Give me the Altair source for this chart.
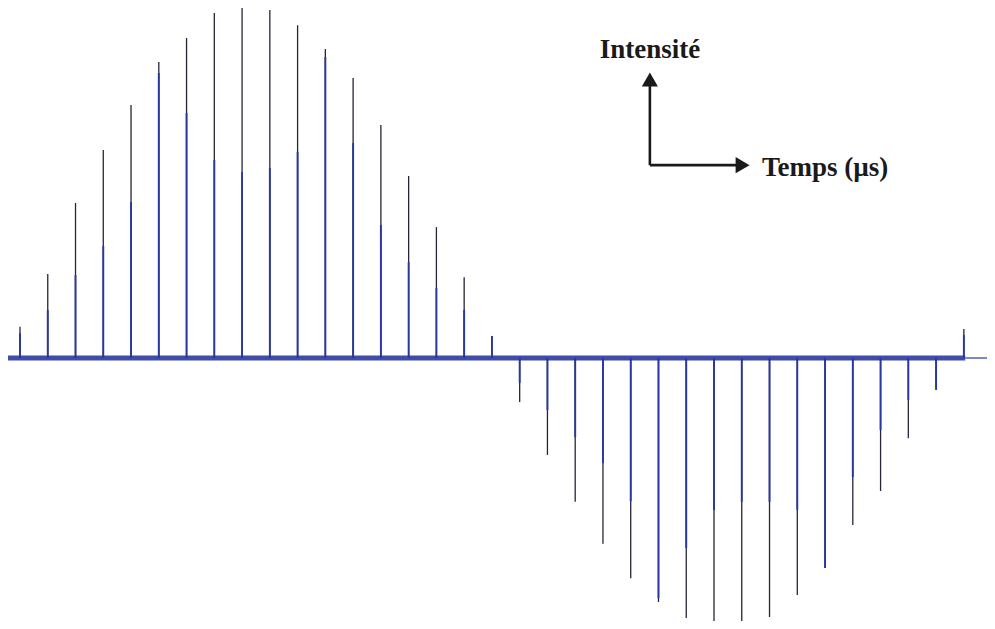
import altair as alt
import pandas as pd

# Spike times (one peak per period, arbitrary µs units)
spike_time = list(range(1, 36))
# Dark (tall) component of each spike, intensity in arbitrary units
black_peak = [8.9, 24.0, 44.3, 59.4, 72.3, 84.6, 91.4, 98.6, 100.3, 99.4,
              95.1, 88.3, 80.0, 66.6, 52.0, 37.4, 23.1, 6.3,
              -12.6, -27.7, -41.1, -53.1, -62.9, -69.7, -74.3, -77.1, -75.4,
              -74.0, -67.7, -60.0, -47.7, -38.0, -22.9, -9.1, 8.3]
# Blue component of each spike
blue_peak = [7.1, 13.7, 23.7, 32.0, 44.6, 81.4, 70.0, 56.6, 53.1, 54.3,
             58.9, 86.0, 61.4, 38.0, 27.4, 20.0, 13.7, 6.3,
             -7.1, -14.9, -22.6, -30.0, -40.9, -68.6, -54.3, -43.4, -41.1,
             -41.1, -43.4, -60.0, -34.0, -20.6, -12.0, -9.1, 6.6]

# Baseline segments: noisy part then flat tail
base_start = [0.568, 35.05]
base_end = [35.05, 35.834]

df = pd.DataFrame({"t": spike_time, "black": black_peak, "blue": blue_peak})
df["zero"] = 0.0

base_noisy = pd.DataFrame({"t0": [base_start[0]], "t1": [base_end[0]], "v": [0.0]})
base_flat = pd.DataFrame({"t0": [base_start[1]], "t1": [base_end[1]], "v": [0.0]})

xs = alt.Scale(domain=[0.568, 35.834], nice=False, zero=False)
ys = alt.Scale(domain=[-75.14, 100], nice=False, zero=False)

BLUE = "#2a389e"
DARK = "#25253a"

band = alt.Chart(base_noisy).mark_rule(color=BLUE, strokeWidth=5, opacity=0.9).encode(
    x=alt.X("t0:Q", scale=xs, axis=None), x2="t1:Q",
    y=alt.Y("v:Q", scale=ys, axis=None))
tail = alt.Chart(base_flat).mark_rule(color=BLUE, strokeWidth=1.2).encode(
    x=alt.X("t0:Q", scale=xs, axis=None), x2="t1:Q",
    y=alt.Y("v:Q", scale=ys, axis=None))

dark = alt.Chart(df).mark_rule(color=DARK, strokeWidth=1.3).encode(
    x=alt.X("t:Q", scale=xs, axis=None),
    y=alt.Y("zero:Q", scale=ys, axis=None), y2="black:Q")
blue = alt.Chart(df).mark_rule(color=BLUE, strokeWidth=1.9).encode(
    x=alt.X("t:Q", scale=xs, axis=None),
    y=alt.Y("zero:Q", scale=ys, axis=None), y2="blue:Q")

# Axis-legend annotation (arrows and labels) in data units
arrow_lines = pd.DataFrame({
    "x0": [23.69, 23.69], "x1": [23.69, 27.0],
    "y0": [55.1, 55.1], "y1": [78.5, 55.1]})
heads = pd.DataFrame({"x": [23.69, 27.03], "y": [79.6, 55.1]})
labels = pd.DataFrame({"x": [23.69, 27.73], "y": [85.7, 52.0],
                       "label": ["Intensité", "Temps (µs)"]})

lines = alt.Chart(arrow_lines).mark_rule(color="#1a1a1a", strokeWidth=2.6).encode(
    x=alt.X("x0:Q", scale=xs, axis=None), x2="x1:Q",
    y=alt.Y("y0:Q", scale=ys, axis=None), y2="y1:Q")
head_up = alt.Chart(heads.iloc[[0]]).mark_point(
    shape="triangle-up", filled=True, size=260, color="#1a1a1a", opacity=1).encode(
    x=alt.X("x:Q", scale=xs, axis=None), y=alt.Y("y:Q", scale=ys, axis=None))
head_right = alt.Chart(heads.iloc[[1]]).mark_point(
    shape="triangle-right", filled=True, size=260, color="#1a1a1a", opacity=1).encode(
    x=alt.X("x:Q", scale=xs, axis=None), y=alt.Y("y:Q", scale=ys, axis=None))
lab1 = alt.Chart(labels.iloc[[0]]).mark_text(
    font="Liberation Serif", fontWeight="bold", fontSize=27, align="center",
    baseline="alphabetic", color="#1a1a1a").encode(
    x=alt.X("x:Q", scale=xs, axis=None), y=alt.Y("y:Q", scale=ys, axis=None), text="label:N")
lab2 = alt.Chart(labels.iloc[[1]]).mark_text(
    font="Liberation Serif", fontWeight="bold", fontSize=27, align="left",
    baseline="alphabetic", color="#1a1a1a").encode(
    x=alt.X("x:Q", scale=xs, axis=None), y=alt.Y("y:Q", scale=ys, axis=None), text="label:N")

chart = alt.layer(band, tail, dark, blue, lines, head_up, head_right, lab1, lab2).properties(
    width=979, height=613, padding=0, autosize="none", background="white"
).configure_view(strokeWidth=0)

chart.save("out.html", embed_options={"renderer": "svg", "actions": False})
